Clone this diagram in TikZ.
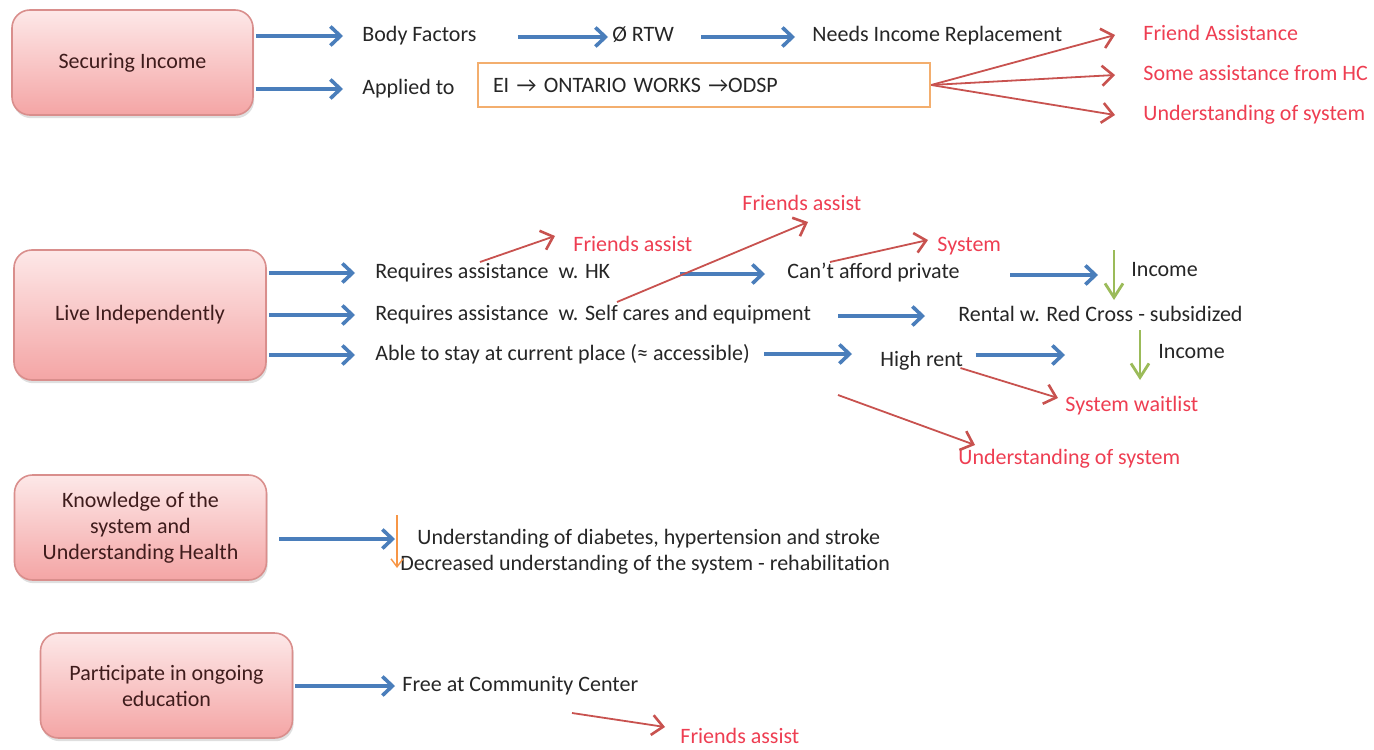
\documentclass[tikz,border=0pt]{standalone}
\usepackage{fontspec}
\setmainfont{Carlito}
\usetikzlibrary{arrows.meta,shadows}

\definecolor{txtgray}{HTML}{262626}
\definecolor{boxtxt}{HTML}{3F1C1C}
\definecolor{boxline}{HTML}{D98E8C}
\definecolor{boxtop}{HTML}{FDE8E8}
\definecolor{boxbot}{HTML}{F4A5A5}
\definecolor{arrblue}{HTML}{4A7EBB}
\definecolor{arrred}{HTML}{C8524F}
\definecolor{txtred}{HTML}{EE3E52}
\definecolor{arrgreen}{HTML}{9BBB59}
\definecolor{arrorange}{HTML}{F79646}
\definecolor{eiline}{HTML}{F3AE6E}

\tikzset{
  goal/.style={draw=boxline, line width=0.8pt, rounded corners=9pt,
    top color=boxtop, bottom color=boxbot, text=boxtxt, align=center,
    minimum width=126pt, minimum height=52.5pt, font=\fontsize{11}{13}\selectfont,
    drop shadow={opacity=0.25, shadow xshift=0.6pt, shadow yshift=-1.6pt}},
  txt/.style={anchor=west, inner sep=0pt, text height=7.5pt, text depth=2pt,
    text=txtgray, font=\fontsize{11}{13}\selectfont},
  redtxt/.style={txt, text=txtred},
  eibox/.style={draw=eiline, line width=1.2pt, fill=white, text width=211pt,
    inner xsep=7.5pt, minimum height=22pt, align=left, text=txtgray,
    font=\fontsize{11}{13}\selectfont},
  barrow/.style={color=arrblue, line width=2.3pt,
    -{Straight Barb[length=5pt, width=9.5pt, line width=1.8pt]}},
  rarrow/.style={color=arrred, line width=0.9pt,
    -{Straight Barb[length=5.5pt, width=10pt, line width=1.3pt]}},
  garrow/.style={color=arrgreen, line width=1pt,
    -{Straight Barb[length=7pt, width=9pt, line width=1.4pt]}},
  oarrow/.style={color=arrorange, line width=0.7pt,
    -{Straight Barb[length=4pt, width=6pt]}},
}

\begin{document}
\begin{tikzpicture}[x=0.5pt, y=-0.5pt]
  \useasboundingbox (0,0) rectangle (1374,749);

  \node[goal, minimum width=120.5pt] (secure) at (132.5,62.5) {Securing Income};
  \node[goal, minimum height=65pt]   (live)   at (140,315)    {Live Independently};
  \node[goal]                        (know)   at (140.5,527.5) {Knowledge of the\\system and\\Understanding Health};
  \node[goal]                        (part)   at (166.5,685.5) {Participate in ongoing\\education};

  % securing income
  \node[txt]    (bodyf)    at (362,36)  {Body Factors};
  \node[txt]    (rtw)      at (612,36)  {Ø RTW};
  \node[txt]    (needs)    at (812,36)  {Needs Income Replacement};
  \node[txt]    (applied)  at (362,89)  {Applied to};
  \node[eibox]  (ei)       at (704,85)  {EI → ONTARIO WORKS →ODSP};
  \node[redtxt] (friendA)  at (1143,35) {Friend Assistance};
  \node[redtxt] (someHC)   at (1143,75) {Some assistance from HC};
  \node[redtxt] (undsysA)  at (1143,115) {Understanding of system};

  % living independently
  \node[txt]    (reqHK)    at (375,273) {Requires assistance\ \ w. HK};
  \node[txt]    (reqSelf)  at (375,315) {Requires assistance\ \ w. Self cares and equipment};
  \node[txt]    (able)     at (375,355) {Able to stay at current place (≈ accessible)};
  \node[redtxt] (fassA)    at (573,246) {Friends assist};
  \node[redtxt] (fassB)    at (742,205) {Friends assist};
  \node[txt]    (cant)     at (787,273) {Can’t afford private};
  \node[redtxt] (system)   at (937,246) {System};
  \node[txt]    (incomeA)  at (1131,271) {Income};
  \node[txt]    (rental)   at (958,316) {Rental w. Red Cross - subsidized};
  \node[txt]    (highrent) at (880,361) {High rent};
  \node[txt]    (incomeB)  at (1158,353) {Income};
  \node[redtxt] (waitlist) at (1065,406) {System waitlist};
  \node[redtxt] (undsysB)  at (958,459) {Understanding of system};

  % knowledge and education
  \node[txt]    (diab)     at (417,539) {Understanding of diabetes, hypertension and stroke};
  \node[txt]    (decr)     at (400,565) {Decreased understanding of the system - rehabilitation};
  \node[txt]    (free)     at (402,686) {Free at Community Center};
  \node[redtxt] (fassC)    at (680,738) {Friends assist};

  \path[barrow] (secure.east |- bodyf.west) edge[shorten <=1pt, shorten >=9.5pt] (bodyf.west)
                (secure.east |- applied.west) edge[shorten <=1pt, shorten >=9.5pt] (applied.west)
                ([shift={(41,1)}]bodyf.east) edge ([shift={(-4,1)}]rtw.west)
                ([shift={(27,1)}]rtw.east) edge ([shift={(-17,1)}]needs.west);
  \path[rarrow] (ei.east) edge ([shift={(-28,0)}]friendA.west)
                          edge ([shift={(-28,0)}]someHC.west)
                          edge ([shift={(-28,0)}]undsysA.west);

  \path[barrow] (live.east |- reqHK.west) edge[shorten <=1pt, shorten >=10pt] (reqHK.west)
                (live.east |- reqSelf.west) edge[shorten <=1pt, shorten >=10pt] (reqSelf.west)
                (live.east |- able.west) edge[shorten <=1pt, shorten >=10pt] (able.west)
                ([shift={(-107,1)}]cant.west) edge ([shift={(-22,1)}]cant.west)
                ([shift={(50,2)}]cant.east) edge ([shift={(-33,4)}]incomeA.west)
                ([shift={(-120,0)}]rental.west) edge ([shift={(-33,0)}]rental.west)
                ([shift={(-116,-7)}]highrent.west) edge ([shift={(-28,-7)}]highrent.west)
                ([shift={(12,-6)}]highrent.east) edge ([shift={(-93,2)}]incomeB.west);
  \path[rarrow] ([shift={(105,-11)}]reqHK.west) edge ([shift={(-18,-10)}]fassA.west)
                ([shift={(242,-13)}]reqSelf.west) edge ([shift={(66,17)}]fassB.west)
                ([shift={(43,-11)}]cant.west) edge ([shift={(-9,-6)}]system.west)
                ([shift={(-3,7)}]highrent.east) edge ([shift={(-7,-8)}]waitlist.west)
                ([shift={(-42,34)}]highrent.west) edge ([shift={(17,-14)}]undsysB.west);
  \path[garrow] ([shift={(-17,-21)}]incomeA.west) edge ([shift={(-17,29)}]incomeA.west)
                ([shift={(-18,-23)}]incomeB.west) edge ([shift={(-18,27)}]incomeB.west);

  \path[barrow] (know.east |- diab.west) edge[shorten <=6pt, shorten >=11pt] (diab.west)
                (part.east |- free.west) edge[shorten <=1pt, shorten >=3.5pt] (free.west);
  \path[oarrow] ([shift={(-20,-24)}]diab.west) edge ([shift={(-3,3)}]decr.west);
  \path[rarrow] ([shift={(170,27)}]free.west) edge ([shift={(-15,-11)}]fassC.west);
\end{tikzpicture}
\end{document}
